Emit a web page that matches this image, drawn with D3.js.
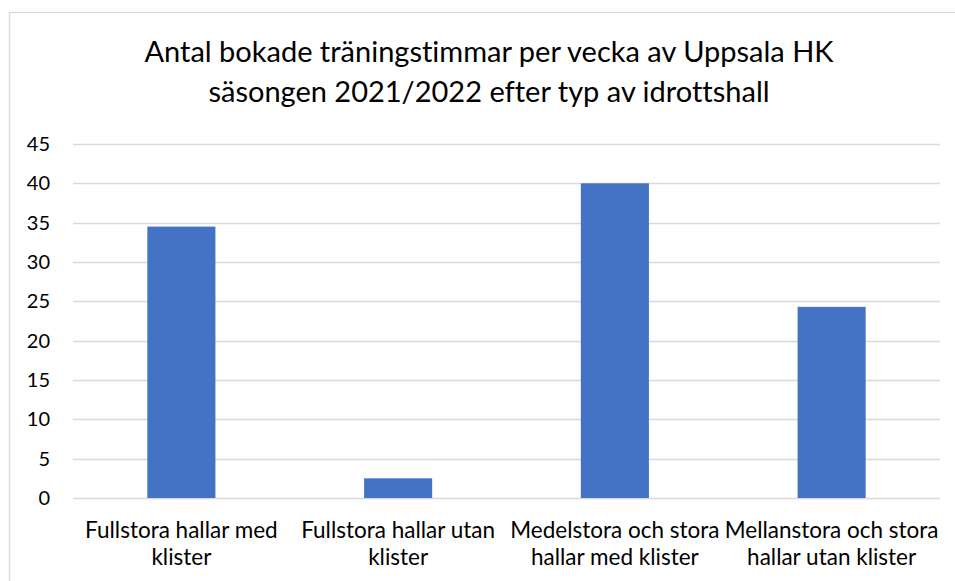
<!DOCTYPE html>
<html>
<head>
<meta charset="utf-8">
<script src="https://cdn.jsdelivr.net/npm/d3@7"></script>
<style>
  body { margin: 0; background: #fff; }
  svg { display: block; font-family: Lato, "Open Sans", sans-serif; font-variant-ligatures: none; }
</style>
</head>
<body>
<div id="chart"></div>
<script>
// data
const categories = [
    ["Fullstora hallar med", "klister"],
    ["Fullstora hallar utan", "klister"],
    ["Medelstora och stora", "hallar med klister"],
    ["Mellanstora och stora", "hallar utan klister"]
];
const hours = [34.5, 2.5, 40, 24.3];
const yTicks = [0, 5, 10, 15, 20, 25, 30, 35, 40, 45];
const titleLines = [
    "Antal bokade träningstimmar per vecka av Uppsala HK",
    "säsongen 2021/2022 efter typ av idrottshall"
];

const W = 955, H = 581;
const margin = { top: 144, right: 15, bottom: 83, left: 73 };
const barColor = "#4472C4";
const gridColor = "#d9d9d9";
const textColor = "#000";

const svg = d3.select("#chart").append("svg")
    .attr("width", W)
    .attr("height", H);

// chart frame (runs off the right and bottom of the window)
svg.append("rect")
    .attr("x", 9.5)
    .attr("y", 12.5)
    .attr("width", W + 20)
    .attr("height", H + 20)
    .attr("fill", "#fff")
    .attr("stroke", gridColor)
    .attr("stroke-width", 1.3);

const keys = categories.map(c => c.join(" "));

const x = d3.scaleBand()
    .domain(keys)
    .range([margin.left, W - margin.right])
    .paddingInner(0.686)
    .paddingOuter(0.343);

const y = d3.scaleLinear()
    .domain([0, 45])
    .range([H - margin.bottom, margin.top]);

// gridlines
svg.append("g")
    .selectAll("line")
    .data(yTicks)
    .enter()
    .append("line")
    .attr("x1", margin.left)
    .attr("x2", W - margin.right)
    .attr("y1", d => Math.round(y(d)) + 0.5)
    .attr("y2", d => Math.round(y(d)) + 0.5)
    .attr("stroke", gridColor)
    .attr("stroke-width", 1.4);

// y tick labels
const yAxis = svg.append("g")
    .attr("transform", `translate(${margin.left},0)`)
    .call(d3.axisLeft(y).tickValues(yTicks).tickSize(0).tickPadding(23));
yAxis.select(".domain").remove();
yAxis.selectAll("text")
    .attr("font-size", 20)
    .attr("font-family", "Lato, sans-serif")
    .attr("fill", textColor);

// bars
svg.append("g")
    .selectAll("rect")
    .data(hours)
    .enter()
    .append("rect")
    .attr("x", (d, i) => x(keys[i]))
    .attr("y", d => y(d))
    .attr("width", x.bandwidth())
    .attr("height", d => y(0) - y(d))
    .attr("fill", barColor);

// category labels
const xLabels = svg.append("g")
    .selectAll("text")
    .data(categories)
    .enter()
    .append("text")
    .attr("text-anchor", "middle")
    .attr("font-size", 22.5)
    .attr("fill", textColor)
    .attr("x", (d, i) => x(keys[i]) + x.bandwidth() / 2)
    .attr("y", 537.5);
xLabels.selectAll("tspan")
    .data(d => d)
    .enter()
    .append("tspan")
    .attr("x", function () { return d3.select(this.parentNode).attr("x"); })
    .attr("dy", (d, i) => i === 0 ? 0 : 27.5)
    .text(d => d);

// title
svg.append("text")
    .attr("text-anchor", "middle")
    .attr("font-size", 29)
    .attr("fill", textColor)
    .selectAll("tspan")
    .data(titleLines)
    .enter()
    .append("tspan")
    .attr("x", 489)
    .attr("y", (d, i) => 62 + i * 40)
    .text(d => d);
</script>
</body>
</html>
